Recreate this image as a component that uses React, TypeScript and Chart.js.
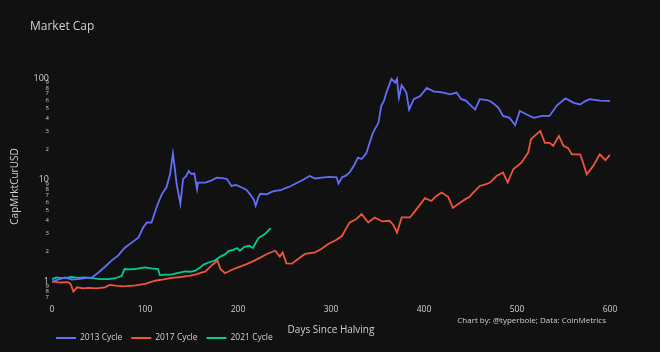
import React, { useEffect, useRef } from "react";
import { Chart, registerables } from "chart.js";

Chart.register(...registerables);

// ---------- data ----------
const days2013 = [0, 8, 14, 21, 28, 36, 43, 50, 57, 64, 71, 78, 86, 93, 98, 102, 107, 113, 118, 123, 127, 130, 132, 134, 138, 141, 144, 147, 150, 153, 156, 157, 165, 171, 177, 183, 188, 193, 198, 204, 209, 213, 217, 219, 222, 224, 231, 236, 240, 246, 251, 256, 261, 268, 277, 283, 290, 298, 306, 308, 312, 316, 320, 325, 329, 333, 338, 345, 351, 354, 357, 360, 365, 369, 371, 373, 376, 381, 384, 389, 396, 403, 410, 415, 421, 428, 435, 440, 445, 449, 455, 460, 466, 471, 476, 480, 485, 492, 498, 503, 510, 518, 527, 535, 543, 552, 561, 568, 573, 578, 589, 600];
const cap2013 = [1.0, 1.06, 1.1, 1.05, 1.06, 1.08, 1.1, 1.23, 1.4, 1.61, 1.8, 2.14, 2.43, 2.72, 3.4, 3.81, 3.81, 5.56, 7.2, 8.4, 11.4, 18.1, 13, 9.1, 5.8, 10.2, 10.8, 12.2, 11.4, 11.6, 8.1, 9.4, 9.4, 9.8, 10.5, 10.4, 10.2, 8.7, 8.9, 8.4, 8.0, 7.2, 6.4, 5.56, 6.8, 7.3, 7.2, 7.6, 7.8, 7.9, 8.3, 8.6, 9.1, 9.8, 10.9, 10.3, 10.5, 10.7, 10.6, 9.2, 10.6, 11.0, 11.8, 14, 16.5, 16, 18.2, 29, 36.3, 53, 60, 74, 98, 90, 98, 64, 85, 72, 49, 62, 66.5, 80, 74, 73, 72, 69, 72, 62, 60, 55, 49, 62, 61, 59.5, 55, 51, 42.4, 40.6, 34.4, 47.5, 44, 40.6, 42.4, 42.4, 54, 63, 57, 55, 59, 62, 60, 59.5];

const days2017 = [0, 9, 17, 20, 23, 27, 33, 39, 48, 57, 62, 70, 78, 90, 100, 111, 120, 129, 138, 147, 154, 165, 172, 178, 181, 186, 193, 200, 208, 216, 224, 231, 240, 245, 248, 252, 258, 265, 272, 283, 290, 297, 305, 312, 316, 320, 327, 333, 340, 347, 355, 363, 367, 371, 376, 385, 392, 401, 408, 413, 419, 426, 431, 439, 445, 449, 453, 460, 466, 471, 478, 485, 490, 496, 505, 512, 515, 519, 525, 530, 535, 539, 545, 550, 555, 559, 568, 571, 575, 582, 589, 595, 600];
const cap2017 = [1.0, 0.98, 0.99, 0.95, 0.8, 0.88, 0.86, 0.87, 0.86, 0.88, 0.93, 0.91, 0.9, 0.92, 0.95, 1.02, 1.05, 1.09, 1.11, 1.14, 1.17, 1.26, 1.45, 1.61, 1.33, 1.21, 1.3, 1.38, 1.47, 1.58, 1.72, 1.87, 2.01, 1.76, 1.93, 1.51, 1.5, 1.68, 1.87, 1.94, 2.1, 2.34, 2.55, 2.82, 3.3, 3.81, 4.1, 4.6, 3.81, 4.27, 3.9, 3.96, 3.6, 3.04, 4.27, 4.27, 5.15, 6.6, 6.2, 6.9, 7.5, 6.8, 5.3, 6.0, 6.5, 6.8, 7.5, 8.7, 9.0, 9.4, 10.9, 11.8, 9.4, 12.7, 14.8, 18.5, 25, 27, 30.2, 23.1, 23.1, 21.6, 27, 21.6, 20.5, 17.8, 17.8, 14.8, 11.3, 13.7, 17.8, 15.6, 17.6];

const days2021 = [0, 5, 10, 15, 21, 28, 35, 43, 52, 61, 68, 75, 78, 84, 89, 95, 100, 107, 114, 116, 122, 129, 136, 143, 149, 154, 158, 163, 169, 175, 181, 186, 190, 195, 199, 202, 207, 212, 216, 222, 229, 235];
const cap2021 = [1.06, 1.1, 1.08, 1.09, 1.11, 1.09, 1.1, 1.08, 1.06, 1.06, 1.08, 1.14, 1.33, 1.32, 1.33, 1.36, 1.38, 1.35, 1.33, 1.16, 1.17, 1.18, 1.22, 1.26, 1.25, 1.28, 1.35, 1.47, 1.55, 1.61, 1.76, 1.85, 2.01, 2.05, 2.14, 2.01, 2.2, 2.25, 2.14, 2.68, 2.93, 3.36];

const seriesNames = ["2013 Cycle", "2017 Cycle", "2021 Cycle"];
const xTickStep = 100;
const xMin = 0;
const xMax = 600;
const yMin = 0.66;
const yMax = 112;

const titleText = "Market Cap";
const xTitleText = "Days Since Halving";
const yTitleText = "CapMrktCurUSD";
const creditText = "Chart by: @typerbole; Data: CoinMetrics";

// ---------- styles ----------
const COLORS = ["#636efa", "#ef553b", "#00cc96"];
const BG = "#111111";
const TEXT = "#d0d0d0";
const FONT = "'Open Sans', 'Liberation Sans', Arial, sans-serif";

const toPoints = (xs: number[], ys: number[]) => xs.map((x, i) => ({ x, y: ys[i] }));

const isPow10 = (v: number) => {
  const l = Math.log10(v);
  return Math.abs(l - Math.round(l)) < 1e-6;
};

const overlayPlugin = {
  id: "overlayText",
  beforeDraw(chart: any) {
    const ctx = chart.ctx;
    ctx.save();
    ctx.fillStyle = BG;
    ctx.fillRect(0, 0, chart.width, chart.height);
    ctx.restore();
  },
  afterDraw(chart: any) {
    const ctx = chart.ctx;
    const a = chart.chartArea;
    ctx.save();
    ctx.fillStyle = TEXT;
    ctx.textBaseline = "middle";

    ctx.font = `12px ${FONT}`;
    ctx.textAlign = "left";
    ctx.fillText(titleText, 30, 27);

    ctx.font = `10px ${FONT}`;
    ctx.textAlign = "center";
    ctx.fillText(xTitleText, (a.left + a.right) / 2, 330);

    ctx.save();
    ctx.translate(15, (a.top + a.bottom) / 2);
    ctx.rotate(-Math.PI / 2);
    ctx.fillText(yTitleText, 0, 0);
    ctx.restore();

    ctx.font = `8px ${FONT}`;
    ctx.textAlign = "right";
    ctx.fillText(creditText, 606, 321);

    // legend
    ctx.font = `8.5px ${FONT}`;
    ctx.textAlign = "left";
    let x = 56;
    const y = 338;
    chart.data.datasets.forEach((ds: any) => {
      ctx.strokeStyle = ds.borderColor;
      ctx.lineWidth = 2;
      ctx.beginPath();
      ctx.moveTo(x, y);
      ctx.lineTo(x + 20, y);
      ctx.stroke();
      ctx.fillStyle = TEXT;
      ctx.fillText(ds.label, x + 24, y);
      x += 24 + ctx.measureText(ds.label).width + 9;
    });
    ctx.restore();
  },
};

export default function App() {
  const ref = useRef<HTMLCanvasElement | null>(null);

  useEffect(() => {
    if (!ref.current) return;
    const chart = new Chart(ref.current, {
      type: "line",
      data: {
        datasets: [
          { label: seriesNames[0], data: toPoints(days2013, cap2013), borderColor: COLORS[0], backgroundColor: COLORS[0] },
          { label: seriesNames[1], data: toPoints(days2017, cap2017), borderColor: COLORS[1], backgroundColor: COLORS[1] },
          { label: seriesNames[2], data: toPoints(days2021, cap2021), borderColor: COLORS[2], backgroundColor: COLORS[2] },
        ],
      },
      options: {
        responsive: false,
        animation: false,
        layout: { padding: { left: 0, right: 50, top: 73, bottom: 32 } },
        elements: {
          line: { borderWidth: 1.8, tension: 0 },
          point: { radius: 0 },
        },
        plugins: {
          legend: { display: false },
          title: { display: false },
          tooltip: { enabled: false },
        },
        scales: {
          x: {
            type: "linear",
            min: xMin,
            max: xMax,
            grid: { display: false, drawTicks: false },
            border: { display: false },
            ticks: {
              stepSize: xTickStep,
              color: TEXT,
              padding: 4,
              font: { family: FONT, size: 8.5 },
              maxRotation: 0,
            },
            afterFit: (s: any) => {
              s.height = 20;
            },
          },
          y: {
            type: "logarithmic",
            min: yMin,
            max: yMax,
            grid: { display: false, drawTicks: false },
            border: { display: false },
            ticks: {
              autoSkip: false,
              color: TEXT,
              padding: 3,
              font: (c: any) => ({
                family: FONT,
                size: c.tick && isPow10(c.tick.value) ? 9 : 6,
              }),
              callback: (v: any) => {
                const val = Number(v);
                const e = Math.floor(Math.log10(val) + 1e-9);
                const r = val / Math.pow(10, e);
                if (Math.abs(r - Math.round(r)) > 1e-6) return "";
                const d = Math.round(r);
                if (d === 1 || d === 10) return String(Math.round(val * 1000) / 1000);
                return String(d);
              },
            },
            afterFit: (s: any) => {
              s.width = 52;
            },
          },
        },
      },
      plugins: [overlayPlugin],
    } as any);
    return () => chart.destroy();
  }, []);

  return (
    <div style={{ position: "fixed", left: 0, top: 0, width: 660, height: 352, background: BG }}>
      <canvas ref={ref} width={660} height={352} style={{ width: 660, height: 352, display: "block" }} />
    </div>
  );
}
